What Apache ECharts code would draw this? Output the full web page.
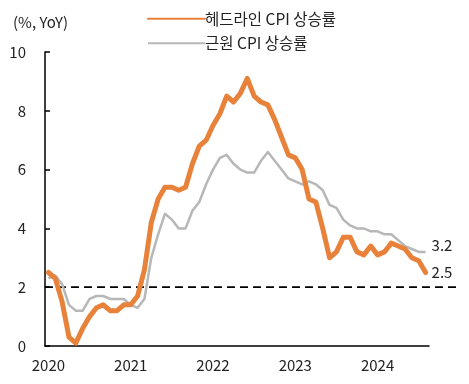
<!DOCTYPE html>
<html><head><meta charset="utf-8">
<script src="https://cdn.jsdelivr.net/npm/echarts@6/dist/echarts.min.js"></script>
<style>html,body{margin:0;padding:0;background:#fff}#c{width:469px;height:384px}</style>
</head><body><div id="c"></div>
<script>
const months = [];
for (let y = 2020; y <= 2024; y++) for (let m = 1; m <= 12; m++) { if (y === 2024 && m > 8) break; months.push(y + '-' + String(m).padStart(2, '0')); }
const headline = [2.5,2.3,1.5,0.3,0.1,0.6,1.0,1.3,1.4,1.2,1.2,1.4,
  1.4,1.7,2.6,4.2,5.0,5.4,5.4,5.3,5.4,6.2,6.8,7.0,
  7.5,7.9,8.5,8.3,8.6,9.1,8.5,8.3,8.2,7.7,7.1,6.5,
  6.4,6.0,5.0,4.9,4.0,3.0,3.2,3.7,3.7,3.2,3.1,3.4,
  3.1,3.2,3.5,3.4,3.3,3.0,2.9,2.5];
const core = [2.3,2.4,2.1,1.4,1.2,1.2,1.6,1.7,1.7,1.6,1.6,1.6,
  1.4,1.3,1.6,3.0,3.8,4.5,4.3,4.0,4.0,4.6,4.9,5.5,
  6.0,6.4,6.5,6.2,6.0,5.9,5.9,6.3,6.6,6.3,6.0,5.7,
  5.6,5.5,5.6,5.5,5.3,4.8,4.7,4.3,4.1,4.0,4.0,3.9,
  3.9,3.8,3.8,3.6,3.4,3.3,3.2,3.2];
const targetLevel = 2;
const yMin = 0, yMax = 10, yStep = 2;
const seriesNames = ['헤드라인 CPI 상승률', '근원 CPI 상승률'];
const unitLabel = '(%, YoY)';

const font = '"Noto Sans CJK KR", "Noto Sans", sans-serif';
const txt = '#222';
const orange = '#E8823A', gray = '#B7B7B7';
const chart = echarts.init(document.getElementById('c'), null, {renderer: 'canvas'});
const yearEvery = (i) => i % 12 === 0;
chart.setOption({
  animation: false,
  textStyle: {fontFamily: font},
  title: {text: unitLabel, left: 8, top: 10, textStyle: {fontSize: 15, fontWeight: 'normal', color: txt, fontFamily: font}},
  legend: {
    data: seriesNames, orient: 'vertical', left: 142, top: 6, itemWidth: 57, itemHeight: 14, itemGap: 9,
    itemStyle: {opacity: 0},
    textStyle: {fontSize: 15.5, color: txt, fontFamily: font, padding: [0, 0, 0, -5]}
  },
  grid: [
    {left: 45, right: 40, top: 52, bottom: 38},
    {left: 45, right: 12, top: 52, bottom: 38}
  ],
  xAxis: [{
    type: 'category', data: months, boundaryGap: true, gridIndex: 0,
    axisLine: {lineStyle: {color: '#000', width: 1.5}},
    axisTick: {inside: true, length: 5, interval: (i) => yearEvery(i), lineStyle: {color: '#000', width: 1.5}},
    axisLabel: {interval: (i) => yearEvery(i), formatter: (v) => v.slice(0, 4), fontSize: 15, color: txt, margin: 12, fontFamily: font}
  }, {
    type: 'value', gridIndex: 1, min: 0, max: 1, show: false
  }],
  yAxis: [{
    type: 'value', min: yMin, max: yMax, interval: yStep, gridIndex: 0,
    splitLine: {show: false},
    axisLine: {show: true, lineStyle: {color: '#000', width: 1.5}},
    axisTick: {show: true, inside: true, length: 5, lineStyle: {color: '#000', width: 1.5}},
    axisLabel: {fontSize: 15, color: txt, margin: 19, fontFamily: font}
  }, {
    type: 'value', min: yMin, max: yMax, gridIndex: 1, show: false
  }],
  series: [
    {
      name: 'target', type: 'line', xAxisIndex: 1, yAxisIndex: 1, z: 1, silent: true,
      data: [[0, targetLevel], [1, targetLevel]], symbol: 'none',
      lineStyle: {color: '#000', width: 1.8, type: [8, 5]}
    },
    {
      name: seriesNames[1], type: 'line', data: core, symbol: 'none', z: 2,
      itemStyle: {color: gray},
      lineStyle: {color: gray, width: 2.5, join: 'round'},
      endLabel: {show: true, formatter: (p) => p.value.toFixed(1), fontSize: 15, color: txt, distance: 6, offset: [0, -7], fontFamily: font}
    },
    {
      name: seriesNames[0], type: 'line', data: headline, symbol: 'none', z: 3,
      itemStyle: {color: orange},
      lineStyle: {color: orange, width: 5, join: 'round', cap: 'round'},
      endLabel: {show: true, formatter: (p) => p.value.toFixed(1), fontSize: 15, color: txt, distance: 6, offset: [0, 0], fontFamily: font}
    }
  ]
});
</script></body></html>
